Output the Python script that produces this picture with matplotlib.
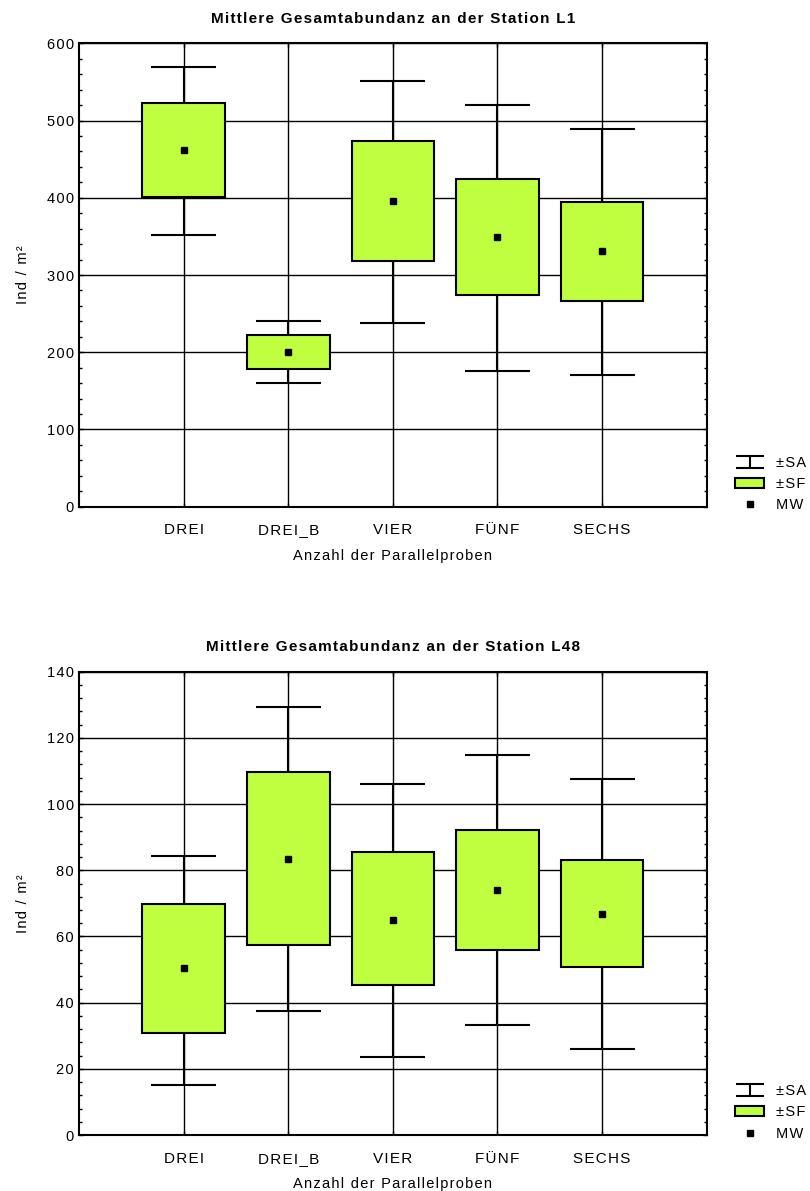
import numpy as np
import matplotlib.pyplot as plt
from matplotlib.patches import Rectangle, Patch
from matplotlib.lines import Line2D
from matplotlib.path import Path
from matplotlib.ticker import MultipleLocator, FuncFormatter

plt.rcParams['font.family'] = ['Liberation Sans', 'DejaVu Sans']

categories = ['DREI', 'DREI_B', 'VIER', 'FÜNF', 'SECHS']

# Station L1: Mittelwert, +-Standardfehler, +-Standardabweichung
l1_mean = [461.7, 200.0, 395.6, 349.0, 330.8]
l1_sf_lo = [400.8, 178.0, 317.9, 273.8, 266.1]
l1_sf_hi = [522.5, 222.4, 473.3, 424.1, 395.1]
l1_sa_lo = [351.5, 159.8, 237.6, 175.4, 170.2]
l1_sa_hi = [569.2, 240.2, 551.0, 520.0, 488.9]

# Station L48
l48_mean = [50.4, 83.5, 65.0, 74.1, 66.9]
l48_sf_lo = [30.7, 57.3, 45.3, 56.0, 50.7]
l48_sf_hi = [69.9, 109.8, 85.6, 92.2, 83.2]
l48_sa_lo = [15.0, 37.4, 23.5, 33.1, 25.9]
l48_sa_hi = [84.4, 129.2, 106.2, 114.7, 107.5]

green = '#c0ff3f'

# "工"-Symbol fuer die Legende
sa_path = Path([(-1, 0.4), (1, 0.4), (0, 0.4), (0, -0.4), (-1, -0.4), (1, -0.4)],
               [Path.MOVETO, Path.LINETO, Path.MOVETO, Path.LINETO, Path.MOVETO, Path.LINETO])


def spaced(s):
    # etwas Sperrung wie im Original
    return '\u200a'.join(s)


def panel(ax, mean, sf_lo, sf_hi, sa_lo, sa_hi, title, ymax, major, minor):
    x = np.arange(1, len(categories) + 1)
    ax.set_xlim(0, 6)
    ax.set_ylim(0, ymax)
    ax.grid(True, color='black', lw=1.0)
    ax.set_axisbelow(True)
    # Standardabweichung
    ax.vlines(x, sa_lo, sa_hi, color='black', lw=1.5, zorder=2)
    ax.hlines(sa_lo, x - 0.31, x + 0.31, color='black', lw=1.5, zorder=2)
    ax.hlines(sa_hi, x - 0.31, x + 0.31, color='black', lw=1.5, zorder=2)
    # Standardfehler
    for xi, lo, hi in zip(x, sf_lo, sf_hi):
        ax.add_patch(Rectangle((xi - 0.395, lo), 0.79, hi - lo, facecolor=green,
                               edgecolor='black', lw=1.5, zorder=3))
    # Mittelwert
    ax.plot(x, mean, ls='none', marker='s', ms=5, mfc='black', mec='black', zorder=4)

    ax.yaxis.set_major_locator(MultipleLocator(major))
    ax.yaxis.set_minor_locator(MultipleLocator(minor))
    ax.yaxis.set_major_formatter(FuncFormatter(lambda v, p: spaced('%d' % v)))
    ax.tick_params(which='both', direction='in', top=True, right=True, labelsize=10.5)
    ax.tick_params(axis='x', pad=20)
    ax.tick_params(which='major', length=3, width=1)
    ax.tick_params(which='minor', length=2, width=1)
    ax.set_xticks(x)
    ax.set_xticklabels([spaced(c) for c in categories], fontsize=11, va='baseline')
    for sp in ax.spines.values():
        sp.set_linewidth(1.5)
    ax.set_title(spaced(title), fontsize=11, fontweight='bold', pad=15)
    ax.set_xlabel(spaced('Anzahl der Parallelproben'), fontsize=10.5, labelpad=8)
    ax.set_ylabel(spaced('Ind / m²'), fontsize=10.5, labelpad=12)

    handles = [
        Line2D([], [], ls='none', marker=sa_path, ms=20, mec='black', mew=1.5),
        Patch(facecolor=green, edgecolor='black', lw=1.5),
        Line2D([], [], ls='none', marker='s', ms=4.5, mfc='black', mec='black'),
    ]
    ax.legend(handles, [spaced(s) for s in ['±SA', '±SF', 'MW']], loc='upper left',
              bbox_to_anchor=(1.045, 0.11), frameon=False, borderpad=0, borderaxespad=0,
              handletextpad=0.8, labelspacing=0.5, fontsize=10.5, numpoints=1)


fig = plt.figure(figsize=(8.1, 11.91), dpi=100)
ax1 = fig.add_axes([0.0975, 0.5746, 0.775, 0.389])
ax2 = fig.add_axes([0.0975, 0.047, 0.775, 0.389])

panel(ax1, l1_mean, l1_sf_lo, l1_sf_hi, l1_sa_lo, l1_sa_hi,
      'Mittlere Gesamtabundanz an der Station L1', 600, 100, 20)
panel(ax2, l48_mean, l48_sf_lo, l48_sf_hi, l48_sa_lo, l48_sa_hi,
      'Mittlere Gesamtabundanz an der Station L48', 140, 20, 4)

fig.savefig('out.png', dpi=100)
